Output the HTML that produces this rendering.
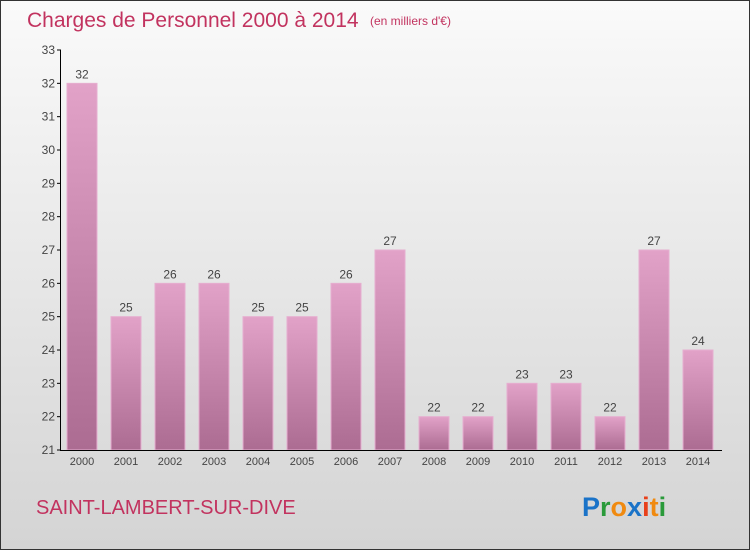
<!DOCTYPE html>
<html><head><meta charset="utf-8"><style>
body{margin:0;}
#wrap{width:748px;height:548px;border:1px solid #333;background:linear-gradient(#fafafa,#d4d4d4);position:relative;overflow:hidden;font-family:"Liberation Sans",sans-serif;}
</style></head><body>
<div id="wrap">
<svg id="c" width="750" height="550" style="position:absolute;left:-1px;top:-1px">
<defs><linearGradient id="bg" x1="0" y1="0" x2="0" y2="1"><stop offset="0" stop-color="#e2a2c8"/><stop offset="1" stop-color="#ac6c92"/></linearGradient></defs>
<text x="27" y="27" font-size="21" fill="#c2335f">Charges de Personnel 2000 à 2014</text>
<text x="370" y="25" font-size="12" fill="#c2335f">(en milliers d'€)</text>
<text x="36" y="514" font-size="20" fill="#c2335f">SAINT-LAMBERT-SUR-DIVE</text>
<text x="582" y="516" font-size="27" font-weight="bold"><tspan fill="#1a73c8">P</tspan><tspan fill="#2a9a3a">r</tspan><tspan fill="#f08a10">o</tspan><tspan fill="#1a73c8">x</tspan><tspan fill="#e8401a">i</tspan><tspan fill="#f08a10">t</tspan><tspan fill="#2a9a3a">i</tspan></text>
</svg>
</div>
<script>
const years=["2000","2001","2002","2003","2004","2005","2006","2007","2008","2009","2010","2011","2012","2013","2014"];
const values=[32,25,26,26,25,25,26,27,22,22,23,23,22,27,24];
const yTicks=[21,22,23,24,25,26,27,28,29,30,31,32,33];
const svg=document.getElementById('c');const NS='http://www.w3.org/2000/svg';
const y0=450,yTop=50,vmin=21,vmax=33;
const Y=v=>y0-(v-vmin)*(y0-yTop)/(vmax-vmin);
const X=i=>67+i*44.0;
function mk(t,a){const e=document.createElementNS(NS,t);for(const k in a)e.setAttribute(k,a[k]);svg.appendChild(e);return e;}
years.forEach((yr,i)=>{
 const b=mk('rect',{x:X(i),y:Y(values[i]),width:30,height:y0-Y(values[i]),fill:'url(#bg)',stroke:'#e6aed0','stroke-width':1});
 
 
 const l=mk('text',{x:X(i)+15,y:Y(values[i])-5,'font-size':12,fill:'#444','text-anchor':'middle'});l.textContent=values[i];
 
 
 const t=mk('text',{x:X(i)+15,y:y0+15,'font-size':11,fill:'#444','text-anchor':'middle'});t.textContent=yr;
 
 
});
yTicks.forEach(v=>{
 const y=Y(v);mk('line',{x1:57,x2:61,y1:y,y2:y,stroke:'#000'});
 const t=mk('text',{x:55,y:y+4,'font-size':12,fill:'#444','text-anchor':'end'});t.textContent=v;
 
 
});
const ya=mk('line',{x1:60.5,x2:60.5,y1:yTop,y2:y0,stroke:'#000'});


const xa=mk('line',{x1:60,x2:722,y1:y0+.5,y2:y0+.5,stroke:'#000'});


</script>
</body></html>
